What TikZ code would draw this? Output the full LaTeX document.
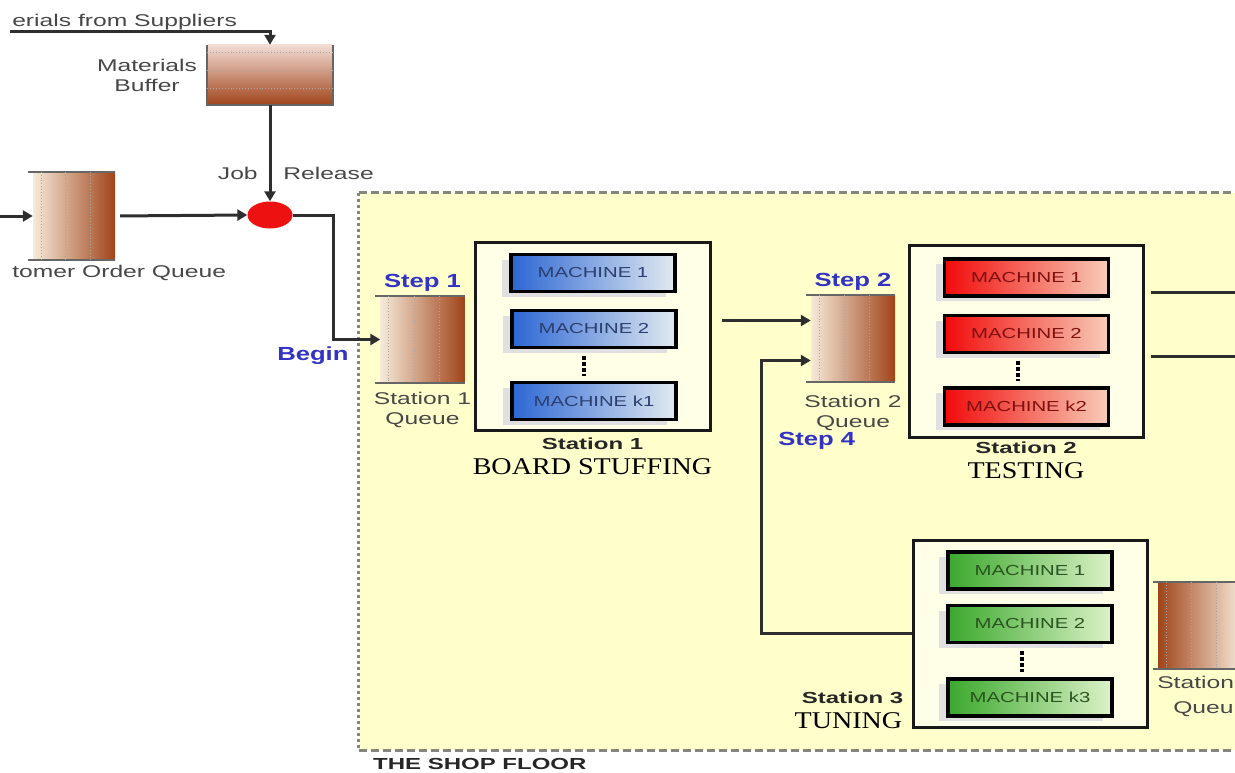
\documentclass[tikz,border=0pt]{standalone}
\usepackage{fontspec}
\setmainfont{Liberation Serif}
\setsansfont{Liberation Sans}
\usepackage{xcolor}
\usepackage{graphicx}
\usepackage{tikz}
\usetikzlibrary{arrows.meta,positioning,shapes.geometric,shadows,calc}
\definecolor{ink}{HTML}{2E2E2E}
\definecolor{floor}{HTML}{FFFFCC}
\definecolor{floorline}{HTML}{85857C}
\definecolor{qpale}{HTML}{F6EAD9}
\definecolor{qmid}{HTML}{D8A583}
\definecolor{qbrown}{HTML}{A0441A}
\definecolor{tankpale}{HTML}{F3DCD4}
\definecolor{stepblue}{HTML}{3232C4}
\definecolor{labelgray}{HTML}{474747}
\definecolor{relred}{HTML}{EE1111}
\definecolor{mblue}{HTML}{2C66D4}
\definecolor{mbluepale}{HTML}{E2EAF0}
\definecolor{mbluetext}{HTML}{2B3F70}
\definecolor{mred}{HTML}{F20A0A}
\definecolor{mredpale}{HTML}{F7CDB8}
\definecolor{mredtext}{HTML}{7E1010}
\definecolor{mgreen}{HTML}{3AA82C}
\definecolor{mgreenpale}{HTML}{DDF2C8}
\definecolor{mgreentext}{HTML}{2A5520}
\newcommand{\wide}[1]{\scalebox{1.4}[1]{#1}}
\tikzset{
  lbl/.style    ={font=\sffamily\fontsize{17}{20}\selectfont,text=labelgray,xscale=1.45,
                  inner sep=0pt,align=center},
  steplbl/.style={font=\sffamily\bfseries\fontsize{19}{22}\selectfont,text=stepblue,
                  xscale=1.35,inner sep=0pt},
  stnlbl/.style ={font=\sffamily\bfseries\fontsize{16}{19}\selectfont,text=black!85,
                  xscale=1.5,inner sep=0pt},
  namelbl/.style={font=\rmfamily\fontsize{24}{26}\selectfont,xscale=1.17,inner sep=0pt},
  queue/.style  ={minimum width=84pt,minimum height=86pt,inner sep=0pt,
                  left color=qpale,middle color=qmid,right color=qbrown},
  qrim/.style   ={draw=black!60,line width=1.8pt},
  qdots/.style  ={draw=black!35,line width=0.9pt,dotted},
  station/.style={draw=black!90,line width=3pt,fill=white!55!floor,inner sep=0pt},
  machine/.style={draw=black,line width=3.4pt,minimum width=164pt,minimum height=37pt,
                  inner sep=0pt,font=\sffamily\fontsize{14.5}{16}\selectfont,
                  drop shadow={shadow xshift=-9pt,shadow yshift=-5pt,fill=black!12,opacity=1}},
  bluem/.style  ={machine,left color=mblue,right color=mbluepale,text=mbluetext},
  redm/.style   ={machine,left color=mred,right color=mredpale,text=mredtext},
  greenm/.style ={machine,left color=mgreen,right color=mgreenpale,text=mgreentext},
  vdots/.style  ={line width=4pt,draw=black,dash pattern=on 3.5pt off 2.5pt},
  shopfloor/.style={fill=floor,inner sep=0pt},
  floortop/.style ={draw=floorline,line width=2.8pt,dash pattern=on 8pt off 4pt},
  floorside/.style={draw=floorline,line width=2.8pt,dash pattern=on 3pt off 3pt},
  flow/.style   ={-{Triangle[length=10pt,width=11pt]},line width=3pt,draw=ink},
  wire/.style   ={line width=3pt,draw=ink}
}
\begin{document}
\begin{tikzpicture}[x=1pt,y=-1pt]
    \useasboundingbox (0,0) rectangle (1235,773);
    \clip (0,0) rectangle (1235,773);
    \node[shopfloor,minimum width=911pt,minimum height=557pt] (shop) at (814.5,471.5) {};
    \draw[floortop] (shop.north west) -- (shop.north east) (shop.south west) -- (shop.south east);
    \draw[floorside] (shop.north west) -- (shop.south west);
    \node[stnlbl,anchor=north west] (shoplbl) at ([xshift=14pt,yshift=-8pt]shop.south west) {THE SHOP FLOOR};

    \node[minimum width=125pt,minimum height=60pt,inner sep=0pt,top color=tankpale,
          bottom color=qbrown] (mb) at (270,75) {};
    \draw[qrim] (mb.north west) -- (mb.south west) -- (mb.south east) -- (mb.north east);
    \foreach \f in {0.12,0.42,0.72}
      \draw[qdots] ($(mb.north west)!\f!(mb.south west)$) -- ($(mb.north east)!\f!(mb.south east)$);
    \node[lbl,left=10pt of mb] (mblbl) {Materials\\Buffer};
    \node[lbl,anchor=base west] (suptxt) at (12,27) {erials from Suppliers};
    \coordinate (supin) at (10,32);
    \draw[flow] (supin) -| (mb.north);

    \node[ellipse,fill=relred,minimum width=45pt,minimum height=27pt,inner sep=0pt] (rel) at (270,215) {};
    \node[lbl,anchor=base east] (job) at (258,180) {Job};
    \node[lbl,anchor=base west] (release) at (283,180) {Release};
    \draw[flow] (mb) -- (rel);

    \node[queue,minimum width=82pt,minimum height=88pt] (cq) at (74,216) {};
    \node[queue] (q1) at (422.5,339.5) {};
    \node[queue] (q2) at (853,338.5) {};
    \node[queue,left color=qbrown,middle color=qmid,right color=qpale] (q3) at (1200,625.5) {};
    \foreach \q in {cq,q1,q2,q3}{
      \draw[qrim] ([xshift=-5pt]\q.north west) -- (\q.north east) ([xshift=-5pt]\q.south west) -- (\q.south east);
      \foreach \f in {0.1,0.4,0.7}
        \draw[qdots] ($(\q.north west)!\f!(\q.north east)$) -- ($(\q.south west)!\f!(\q.south east)$);
    }
    \node[lbl,anchor=base west] (cqlbl) at (12,277) {tomer Order Queue};
    \coordinate (custin) at (0,216);
    \draw[flow] (custin) -- (cq.west);
    \draw[flow,shorten <=5pt] (cq.east) -- (rel.west);
    \coordinate (bend1) at (333,215);
    \draw[flow] (rel.east) -- (bend1) |- (q1.west);
    \node[steplbl,anchor=base west] (begin) at (277,360) {Begin};

    \node[steplbl,above=5pt of q1] (step1) {Step 1};
    \node[lbl,below=9pt of q1] (q1lbl) {Station 1\\Queue};
    \node[steplbl,above=5pt of q2] (step2) {Step 2};
    \node[lbl,below=13pt of q2] (q2lbl) {Station 2\\Queue};
    \node[steplbl,anchor=base west] (step4) at (778,445) {Step 4};
    \node[lbl,anchor=base west] (q3lbl) at (1157,688) {Station};
    \node[lbl,anchor=base west] (q3lbl2) at (1173,713) {Queu};

    \node[station,minimum width=235pt,minimum height=188pt] (s1) at (592.5,336) {};
    \node[bluem] (m11) at (593,273) {\wide{MACHINE 1}};
    \node[bluem] (m12) at (594,329) {\wide{MACHINE 2}};
    \node[bluem] (m1k) at (594,401) {\wide{MACHINE k1}};
    \draw[vdots,shorten <=7pt,shorten >=5pt] ([xshift=-10pt]m12.south) -- ([xshift=-10pt]m1k.north);
    \node[stnlbl,below=6pt of s1] (s1lbl) {Station 1};
    \node[namelbl,below=9pt of s1lbl] (s1name) {BOARD STUFFING};

    \node[station,minimum width=234pt,minimum height=192pt] (s2) at (1026,341) {};
    \node[redm] (m21) at (1026.5,277.5) {\wide{MACHINE 1}};
    \node[redm] (m22) at (1026.5,334) {\wide{MACHINE 2}};
    \node[redm] (m2k) at (1026.5,406.5) {\wide{MACHINE k2}};
    \draw[vdots,shorten <=7pt,shorten >=5pt] ([xshift=-9pt]m22.south) -- ([xshift=-9pt]m2k.north);
    \node[stnlbl,below=3pt of s2] (s2lbl) {Station 2};
    \node[namelbl,below=9pt of s2lbl] (s2name) {TESTING};

    \node[station,minimum width=234pt,minimum height=187pt] (s3) at (1030,633.5) {};
    \node[greenm] (m31) at (1030,570.5) {\wide{MACHINE 1}};
    \node[greenm] (m32) at (1030,624) {\wide{MACHINE 2}};
    \node[greenm] (m3k) at (1030,697.5) {\wide{MACHINE k3}};
    \draw[vdots,shorten <=7pt,shorten >=5pt] ([xshift=-8pt]m32.south) -- ([xshift=-8pt]m3k.north);
    \node[stnlbl,anchor=base east] (s3lbl) at ([xshift=-8pt,yshift=25pt]s3.south west) {Station 3};
    \node[namelbl,anchor=base east] (s3name) at ([xshift=-9pt]s3.south west) {TUNING};

    \coordinate (q2top) at ([yshift=18pt]q2.west);
    \coordinate (q2low) at ([yshift=-22pt]q2.west);
    \coordinate (ret) at (761,0);
    \draw[flow,shorten <=10pt] (s1.east |- q2top) -- (q2top);
    \draw[flow] (s3.west) -- (s3.west -| ret) |- (q2low);
    \coordinate (out1) at (1235,292); \coordinate (out2) at (1235,356);
    \draw[wire,shorten <=6pt] (s2.east |- out1) -- (out1);
    \draw[wire,shorten <=6pt] (s2.east |- out2) -- (out2);
  \end{tikzpicture}
\end{document}
